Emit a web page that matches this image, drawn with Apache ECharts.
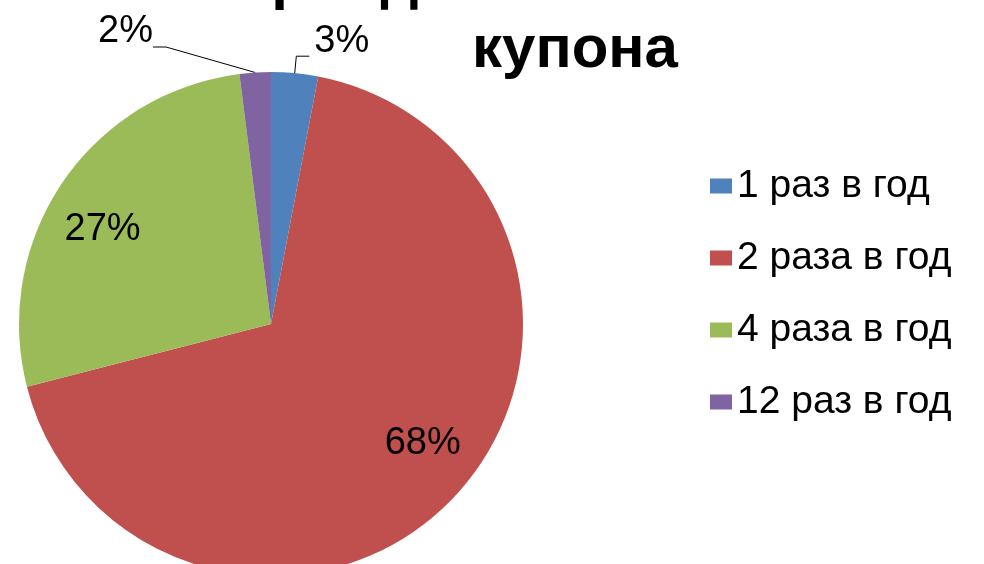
<!DOCTYPE html>
<html>
<head>
<meta charset="utf-8">
<script src="https://cdn.jsdelivr.net/npm/echarts@6/dist/echarts.min.js"></script>
<style>
  html, body { margin: 0; background: #fff; }
  #chart { width: 984px; height: 564px; }
</style>
</head>
<body>
<div id="chart"></div>
<script>
// data
const categories = ['1 раз в год', '2 раза в год', '4 раза в год', '12 раз в год'];
const shares = [3, 68, 27, 2];
const colors = ['#4F81BD', '#C0504D', '#9BBB59', '#8064A2'];
const labelOutside = [true, false, false, true];

const font = '"Liberation Sans", Arial, sans-serif';
const pieCenter = [271, 324];
const pieRadius = 252;

const chart = echarts.init(document.getElementById('chart'));

const option = {
    animation: false,
    color: colors,
    title: {
        text: 'Периодичность выплаты\nкупона',
        left: 570,
        top: -58,
        textAlign: 'center',
        textStyle: {
            fontFamily: font,
            fontSize: 60,
            fontWeight: 'bold',
            color: '#000',
            lineHeight: 69
        }
    },
    legend: {
        orient: 'vertical',
        left: 705,
        top: 161,
        itemWidth: 22,
        itemHeight: 15,
        itemGap: 32,
        icon: 'rect',
        data: categories,
        textStyle: { fontFamily: font, fontSize: 39, color: '#000', lineHeight: 40 }
    },
    series: [
        {
            type: 'pie',
            name: 'Периодичность',
            center: pieCenter,
            radius: pieRadius,
            startAngle: 90,
            clockwise: true,
            avoidLabelOverlap: false,
            emphasis: { disabled: true },
            data: categories.map((name, i) => ({
                name: name,
                value: shares[i],
                label: { show: labelOutside[i] },
                labelLine: { show: labelOutside[i] }
            })),
            label: {
                position: 'outside',
                // empty second line so the leader line meets the lower part of the text
                formatter: '{c}%\n ',
                fontFamily: font,
                fontSize: 38,
                lineHeight: 30,
                color: '#000'
            },
            labelLine: {
                length: 17,
                length2: 13,
                lineStyle: { color: '#000', width: 1 }
            },
            // the small purple slice has its label pulled off to the left
            labelLayout: function (p) {
                if (p.dataIndex === 3) {
                    return { x: 153, y: 47, align: 'right', verticalAlign: 'middle' };
                }
                return {};
            }
        },
        {
            // transparent ring only used to place the inside labels further out
            type: 'pie',
            name: 'labels',
            center: pieCenter,
            radius: [128, pieRadius],
            startAngle: 95,
            clockwise: true,
            silent: true,
            emphasis: { disabled: true },
            itemStyle: { color: 'rgba(0,0,0,0)' },
            data: categories.map((name, i) => ({
                name: name,
                value: shares[i],
                label: { show: !labelOutside[i] }
            })),
            label: {
                position: 'inside',
                formatter: '{c}%',
                fontFamily: font,
                fontSize: 38,
                color: '#000'
            },
            labelLine: { show: false }
        }
    ]
};

chart.setOption(option);
</script>
</body>
</html>
